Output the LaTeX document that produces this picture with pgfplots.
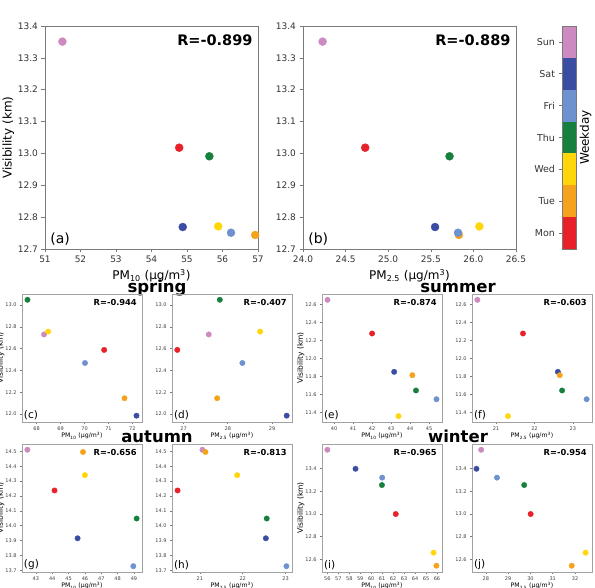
\documentclass[border=0pt]{standalone}
\usepackage{fontspec}
\setmainfont{DejaVu Sans}
\usepackage{pgfplots}
\pgfplotsset{compat=1.18}

% weekday colours
\definecolor{cMon}{HTML}{E8202A}
\definecolor{cTue}{HTML}{F5A31D}
\definecolor{cWed}{HTML}{FFD60A}
\definecolor{cThu}{HTML}{18803E}
\definecolor{cFri}{HTML}{6E92CF}
\definecolor{cSat}{HTML}{3A4DA3}
\definecolor{cSun}{HTML}{CC8AC0}
\definecolor{frame}{HTML}{7A7A7A}

\pgfplotsset{
  base/.style={
    scale only axis, anchor=south west, clip=false,
    axis line style={draw=frame, line width=0.7pt},
    tick align=outside, tick pos=left,
    every tick/.style={draw=frame, line width=0.6pt},
    /pgf/number format/assume math mode=true,
  },
  big/.style={base, width=213pt, height=223pt, major tick length=3.5pt,
    ticklabel style={font=\fontsize{9}{10}\selectfont, text=black!80},
    label style={font=\fontsize{12}{14}\selectfont},
    ylabel style={yshift=-3pt},
    yticklabel style={/pgf/number format/.cd, fixed, fixed zerofill, precision=1},
    ymin=12.7, ymax=13.4,
    ytick={12.7,12.8,12.9,13.0,13.1,13.2,13.3,13.4},
  },
  small/.style={base, width=120pt, height=128pt, major tick length=2pt,
    axis line style={draw=frame!70, line width=0.8pt},
    ticklabel style={font=\fontsize{5}{6}\selectfont, text=black!75},
    xticklabel style={yshift=1pt},
    xlabel style={font=\fontsize{6.2}{7}\selectfont, yshift=5pt},
    ylabel style={font=\fontsize{7.5}{9}\selectfont, yshift=-6pt},
    yticklabel style={/pgf/number format/.cd, fixed, fixed zerofill, precision=1},
  },
  wk/.style={only marks, scatter, scatter src=explicit symbolic, mark=*, mark size=#1,
    scatter/classes={
      Sat={draw=cSat,fill=cSat}, Sun={draw=cSun,fill=cSun},
      Mon={draw=cMon,fill=cMon}, Tue={draw=cTue,fill=cTue},
      Wed={draw=cWed,fill=cWed}, Thu={draw=cThu,fill=cThu},
      Fri={draw=cFri,fill=cFri}}},
}
\tikzset{
  rbig/.style={anchor=north east, inner sep=0pt, font=\bfseries\fontsize{14.5}{16}\selectfont},
  lbig/.style={anchor=south west, inner sep=0pt, font=\fontsize{14}{16}\selectfont},
  rsmall/.style={anchor=north east, inner sep=0pt, font=\bfseries\fontsize{8.3}{10}\selectfont},
  lsmall/.style={anchor=south west, inner sep=0pt, font=\fontsize{10.5}{12}\selectfont},
  season/.style={anchor=base, font=\bfseries\fontsize{16.5}{18}\selectfont},
}

\newcommand{\pmten}{PM\textsubscript{10} (µg/m\textsuperscript{3})}
\newcommand{\pmtwo}{PM\textsubscript{2.5} (µg/m\textsuperscript{3})}

\begin{document}
\begin{tikzpicture}[x=1pt,y=1pt]
\path[use as bounding box] (0,0) rectangle (595,588);

% ---------- whole period ----------
\begin{axis}[big, at={(45pt,339pt)}, xmin=51, xmax=57, xtick={51,...,57},
  xlabel={\pmten}, ylabel={Visibility (km)}]
\addplot[wk=4pt] table[meta=d] {
x y d
54.88 12.769 Sat
51.49 13.351 Sun
54.78 13.018 Mon
56.92 12.744 Tue
55.88 12.771 Wed
55.63 12.991 Thu
56.24 12.751 Fri
};
\node[rbig] at (rel axis cs:0.975,0.96) {R=-0.899};
\node[lbig] at (rel axis cs:0.024,0.014) {(a)};
\end{axis}

\begin{axis}[big, at={(303pt,339pt)}, xmin=24, xmax=26.5,
  xtick={24,24.5,25,25.5,26,26.5},
  xticklabel style={/pgf/number format/.cd, fixed, fixed zerofill, precision=1},
  xlabel={\pmtwo}]
\addplot[wk=4pt] table[meta=d] {
x y d
25.55 12.769 Sat
24.23 13.351 Sun
24.73 13.018 Mon
25.83 12.744 Tue
26.07 12.771 Wed
25.72 12.991 Thu
25.82 12.751 Fri
};
\node[rbig] at (rel axis cs:0.975,0.96) {R=-0.889};
\node[lbig] at (rel axis cs:0.024,0.014) {(b)};
\end{axis}

% ---------- weekday colour bar ----------
\begin{axis}[base, at={(562pt,339pt)}, width=14pt, height=223pt,
  xmin=0, xmax=1, ymin=0.5, ymax=7.5, xtick=\empty,
  ytick={1,2,3,4,5,6,7}, yticklabels={Mon,Tue,Wed,Thu,Fri,Sat,Sun},
  major tick length=3.5pt, clip=true, axis on top,
  ticklabel style={font=\fontsize{9.5}{10}\selectfont, text=black!80},
  ylabel={Weekday},
  ylabel style={font=\fontsize{12}{14}\selectfont, at={(axis description cs:1,0.5)},
    anchor=north, inner sep=0pt, yshift=-3.5pt}]
\addplot[fill=cSun, draw=none] coordinates {(0,7.5) (1,7.5)} \closedcycle;
\addplot[fill=cSat, draw=none] coordinates {(0,6.5) (1,6.5)} \closedcycle;
\addplot[fill=cFri, draw=none] coordinates {(0,5.5) (1,5.5)} \closedcycle;
\addplot[fill=cThu, draw=none] coordinates {(0,4.5) (1,4.5)} \closedcycle;
\addplot[fill=cWed, draw=none] coordinates {(0,3.5) (1,3.5)} \closedcycle;
\addplot[fill=cTue, draw=none] coordinates {(0,2.5) (1,2.5)} \closedcycle;
\addplot[fill=cMon, draw=none] coordinates {(0,1.5) (1,1.5)} \closedcycle;
\end{axis}

% ---------- seasons ----------
\node[season] at (157pt,295.5pt) {spring};
\node[season] at (458pt,295.5pt) {summer};
\node[season] at (157pt,145pt) {autumn};
\node[season] at (458pt,145pt) {winter};

% spring
\begin{axis}[small, at={(22pt,166pt)}, xmin=67.39, xmax=72.40, ymin=11.927, ymax=13.101,
  xtick={68,...,72}, ytick={12.0,12.2,12.4,12.6,12.8,13.0},
  xlabel={\pmten}, ylabel={Visibility (km)}]
\addplot[wk=2.7pt] table[meta=d] {
x y d
72.17 11.985 Sat
68.31 12.730 Sun
70.82 12.588 Mon
71.67 12.145 Tue
68.48 12.756 Wed
67.62 13.048 Thu
70.02 12.468 Fri
};
\node[rsmall] at (rel axis cs:0.958,0.96) {R=-0.944};
\node[lsmall] at (rel axis cs:0.015,0.013) {(c)};
\end{axis}

\begin{axis}[small, at={(172pt,166pt)}, xmin=26.74, xmax=29.45, ymin=11.927, ymax=13.101,
  xtick={27,28,29}, ytick={12.0,12.2,12.4,12.6,12.8,13.0},
  xlabel={\pmtwo}]
\addplot[wk=2.7pt] table[meta=d] {
x y d
29.33 11.985 Sat
27.57 12.730 Sun
26.86 12.588 Mon
27.76 12.145 Tue
28.73 12.756 Wed
27.82 13.048 Thu
28.33 12.468 Fri
};
\node[rsmall] at (rel axis cs:0.958,0.96) {R=-0.407};
\node[lsmall] at (rel axis cs:0.015,0.013) {(d)};
\end{axis}

% summer
\begin{axis}[small, at={(322pt,166pt)}, xmin=39.36, xmax=45.68, ymin=11.295, ymax=12.717,
  xtick={40,...,45}, ytick={11.4,11.6,11.8,12.0,12.2,12.4,12.6},
  xlabel={\pmten}, ylabel={Visibility (km)}]
\addplot[wk=2.7pt] table[meta=d] {
x y d
43.16 11.852 Sat
39.65 12.652 Sun
42.00 12.278 Mon
44.12 11.815 Tue
43.39 11.360 Wed
44.31 11.645 Thu
45.39 11.548 Fri
};
\node[rsmall] at (rel axis cs:0.958,0.96) {R=-0.874};
\node[lsmall] at (rel axis cs:0.015,0.013) {(e)};
\end{axis}

\begin{axis}[small, at={(472pt,166pt)}, xmin=20.37, xmax=23.50, ymin=11.295, ymax=12.717,
  xtick={21,22,23}, ytick={11.4,11.6,11.8,12.0,12.2,12.4,12.6},
  xlabel={\pmtwo}]
\addplot[wk=2.7pt] table[meta=d] {
x y d
22.61 11.852 Sat
20.51 12.652 Sun
21.70 12.278 Mon
22.66 11.815 Tue
21.31 11.360 Wed
22.72 11.645 Thu
23.36 11.548 Fri
};
\node[rsmall] at (rel axis cs:0.958,0.96) {R=-0.603};
\node[lsmall] at (rel axis cs:0.015,0.013) {(f)};
\end{axis}

% autumn
\begin{axis}[small, at={(22pt,16pt)}, xmin=42.15, xmax=49.49, ymin=13.688, ymax=14.550,
  xtick={43,...,49}, ytick={13.7,13.8,13.9,14.0,14.1,14.2,14.3,14.4,14.5},
  xlabel={\pmten}, ylabel={Visibility (km)}]
\addplot[wk=2.7pt] table[meta=d] {
x y d
45.55 13.915 Sat
42.48 14.511 Sun
44.14 14.237 Mon
45.88 14.496 Tue
46.00 14.340 Wed
49.16 14.048 Thu
48.96 13.727 Fri
};
\node[rsmall] at (rel axis cs:0.958,0.96) {R=-0.656};
\node[lsmall] at (rel axis cs:0.015,0.013) {(g)};
\end{axis}

\begin{axis}[small, at={(172pt,16pt)}, xmin=20.35, xmax=23.15, ymin=13.688, ymax=14.550,
  xtick={21,22,23}, ytick={13.7,13.8,13.9,14.0,14.1,14.2,14.3,14.4,14.5},
  xlabel={\pmtwo}]
\addplot[wk=2.7pt] table[meta=d] {
x y d
22.54 13.915 Sat
21.06 14.511 Sun
20.48 14.237 Mon
21.13 14.496 Tue
21.87 14.340 Wed
22.56 14.048 Thu
23.02 13.727 Fri
};
\node[rsmall] at (rel axis cs:0.958,0.96) {R=-0.813};
\node[lsmall] at (rel axis cs:0.015,0.013) {(h)};
\end{axis}

% winter
\begin{axis}[small, at={(322pt,16pt)}, xmin=55.51, xmax=66.46, ymin=12.49, ymax=13.616,
  xtick={56,...,66}, ytick={12.6,12.8,13.0,13.2,13.4},
  xlabel={\pmten}, ylabel={Visibility (km)}]
\addplot[wk=2.7pt] table[meta=d] {
x y d
58.57 13.398 Sat
56.00 13.565 Sun
62.24 13.000 Mon
65.95 12.545 Tue
65.69 12.660 Wed
60.98 13.255 Thu
61.00 13.320 Fri
};
\node[rsmall] at (rel axis cs:0.958,0.96) {R=-0.965};
\node[lsmall] at (rel axis cs:0.015,0.013) {(i)};
\end{axis}

\begin{axis}[small, at={(472pt,16pt)}, xmin=27.38, xmax=32.76, ymin=12.49, ymax=13.616,
  xtick={28,...,32}, ytick={12.6,12.8,13.0,13.2,13.4},
  xlabel={\pmtwo}]
\addplot[wk=2.7pt] table[meta=d] {
x y d
27.58 13.398 Sat
27.79 13.565 Sun
30.01 13.000 Mon
31.85 12.545 Tue
32.47 12.660 Wed
29.72 13.255 Thu
28.50 13.320 Fri
};
\node[rsmall] at (rel axis cs:0.958,0.96) {R=-0.954};
\node[lsmall] at (rel axis cs:0.015,0.013) {(j)};
\end{axis}

\end{tikzpicture}
\end{document}
